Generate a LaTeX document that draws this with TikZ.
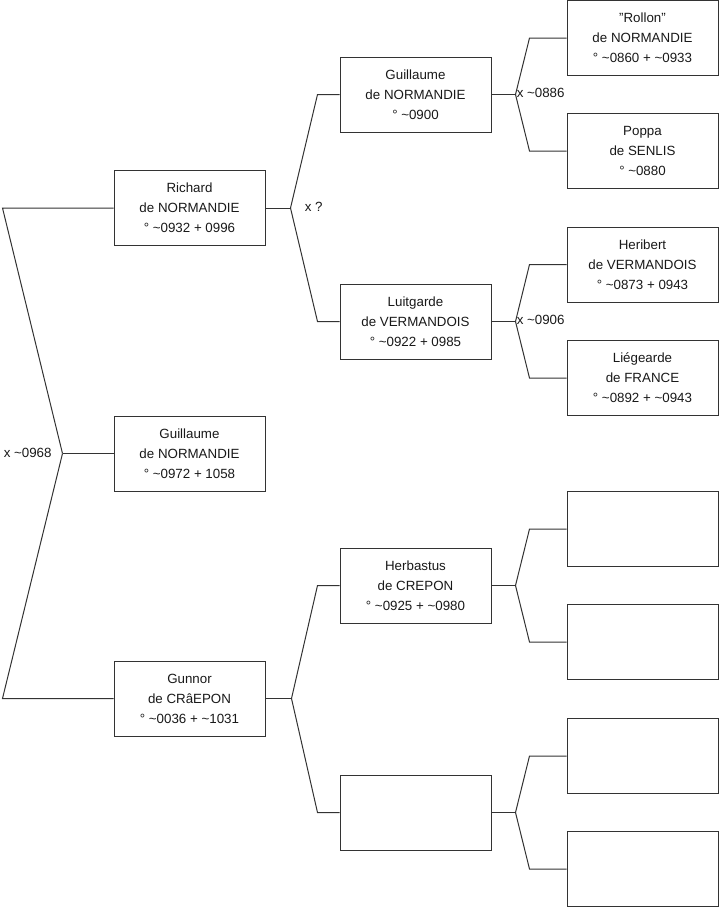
\documentclass[tikz,border=0pt]{standalone}
\usepackage{fontspec}
\setmainfont{Liberation Sans}
\usetikzlibrary{calc}
\tikzset{person/.style={draw=black!80,line width=.75pt,fill=white,minimum width=113.25pt,minimum height=56.25pt,inner sep=0pt,align=center,font=\fontsize{10}{15}\selectfont,text=black!90},
link/.style={draw=black!80,line width=.75pt},
wed/.style={anchor=west,inner sep=0pt,font=\fontsize{10}{12}\selectfont,text=black!90}}
\begin{document}
\begin{tikzpicture}[x=.75pt,y=-.75pt]
\useasboundingbox(0,0) rectangle (719,908);
% generation 1
\node[person](richard)at(189.5,208){Richard\\de NORMANDIE\\° \textasciitilde0932 + 0996};
\node[person](guilA)at(189.5,453.5){Guillaume\\de NORMANDIE\\° \textasciitilde0972 + 1058};
\node[person](gunnor)at(189.5,698.5){Gunnor\\de CRâEPON\\° \textasciitilde0036 + \textasciitilde1031};
% generation 2
\node[person](guilB)at(415.5,94.5){Guillaume\\de NORMANDIE\\° \textasciitilde0900};
\node[person](luit)at(415.5,321.5){Luitgarde\\de VERMANDOIS\\° \textasciitilde0922 + 0985};
\node[person](herb)at(415.5,585.5){Herbastus\\de CREPON\\° \textasciitilde0925 + \textasciitilde0980};
\node[person](unkB)at(415.5,812.5){};
% generation 3
\node[person](rollon)at(642.5,38){\symbol{34}Rollon\symbol{34}\\de NORMANDIE\\° \textasciitilde0860 + \textasciitilde0933};
\node[person](poppa)at(642.5,151){Poppa\\de SENLIS\\° \textasciitilde0880};
\node[person](heri)at(642.5,264.5){Heribert\\de VERMANDOIS\\° \textasciitilde0873 + 0943};
\node[person](lieg)at(642.5,378){Liégearde\\de FRANCE\\° \textasciitilde0892 + \textasciitilde0943};
\node[person](unkC)at(642.5,529){};\node[person](unkD)at(642.5,642){};
\node[person](unkE)at(642.5,756){};\node[person](unkF)at(642.5,869){};
% forks
\foreach \c/\f/\m/\dv/\db in {guilA/richard/gunnor/-51/111,richard/guilB/luit/25/22,gunnor/herb/unkB/26/22,guilB/rollon/poppa/24/37,luit/heri/lieg/24/37,herb/unkC/unkD/24/37,unkB/unkE/unkF/24/37}{
\ifnum\dv<0 \coordinate(\c-v)at($(\c.west)+(\dv,0)$);\draw[link](\c.west)--(\c-v);
\else \coordinate(\c-v)at($(\c.east)+(\dv,0)$);\draw[link](\c.east)--(\c-v);\fi
\draw[link](\c-v)--($(\f.west)+(-\db,0)$)--(\f.west);
\draw[link](\c-v)--($(\m.west)+(-\db,0)$)--(\m.west);}
\node[wed](wA)at($(guilA-v)+(-59,-1)$){x \textasciitilde0968};
\node[wed](wB)at($(richard-v)+(14,-1)$){x ?};
\node[wed](wC)at($(guilB-v)+(1,-2)$){x \textasciitilde0886};
\node[wed](wD)at($(luit-v)+(1,-2)$){x \textasciitilde0906};
\end{tikzpicture}
\end{document}
